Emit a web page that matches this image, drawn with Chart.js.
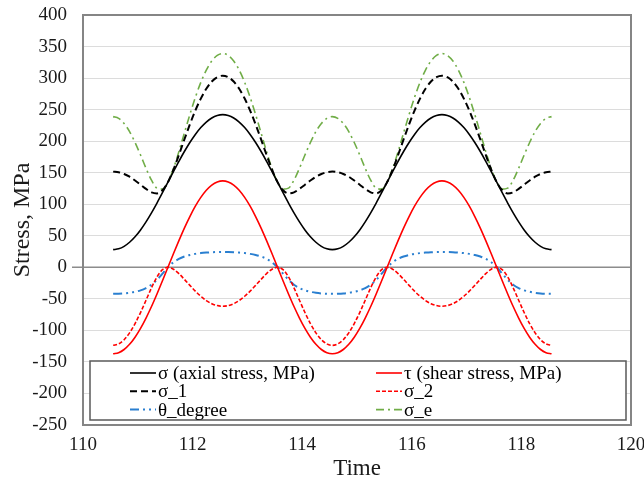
<!DOCTYPE html>
<html>
<head>
<meta charset="utf-8">
<title>Stress vs Time</title>
<script src="https://cdn.jsdelivr.net/npm/chart.js@4.4.1/dist/chart.umd.min.js"></script>
<style>
    html, body { margin: 0; padding: 0; background: #ffffff; }
    #wrap { width: 644px; height: 486px; }
</style>
</head>
<body>
<div id="wrap"><canvas id="stress-chart" width="644" height="486"></canvas></div>
<script>
// Time samples (s)
const times = [
    110.55, 110.65, 110.75, 110.85, 110.95, 111.05, 111.15, 111.25, 111.35, 111.45,
    111.55, 111.65, 111.75, 111.85, 111.95, 112.05, 112.15, 112.25, 112.35, 112.45,
    112.55, 112.65, 112.75, 112.85, 112.95, 113.05, 113.15, 113.25, 113.35, 113.45,
    113.55, 113.65, 113.75, 113.85, 113.95, 114.05, 114.15, 114.25, 114.35, 114.45,
    114.55, 114.65, 114.75, 114.85, 114.95, 115.05, 115.15, 115.25, 115.35, 115.45,
    115.55, 115.65, 115.75, 115.85, 115.95, 116.05, 116.15, 116.25, 116.35, 116.45,
    116.55, 116.65, 116.75, 116.85, 116.95, 117.05, 117.15, 117.25, 117.35, 117.45,
    117.55, 117.65, 117.75, 117.85, 117.95, 118.05, 118.15, 118.25, 118.35, 118.45,
    118.55
];

// axial stress σ, MPa
const sigma = [
    28.0, 29.3, 33.2, 39.7, 48.4, 59.3, 72.1, 86.4, 101.9, 118.3,
    135.0, 151.7, 168.1, 183.6, 197.9, 210.7, 221.6, 230.3, 236.8, 240.7,
    242.0, 240.7, 236.8, 230.3, 221.6, 210.7, 197.9, 183.6, 168.1, 151.7,
    135.0, 118.3, 101.9, 86.4, 72.1, 59.3, 48.4, 39.7, 33.2, 29.3,
    28.0, 29.3, 33.2, 39.7, 48.4, 59.3, 72.1, 86.4, 101.9, 118.3,
    135.0, 151.7, 168.1, 183.6, 197.9, 210.7, 221.6, 230.3, 236.8, 240.7,
    242.0, 240.7, 236.8, 230.3, 221.6, 210.7, 197.9, 183.6, 168.1, 151.7,
    135.0, 118.3, 101.9, 86.4, 72.1, 59.3, 48.4, 39.7, 33.2, 29.3,
    28.0
];

// shear stress τ, MPa
const tau = [
    -137.0, -135.3, -130.3, -122.1, -110.8, -96.9, -80.5, -62.2, -42.3, -21.4,
    0.0, 21.4, 42.3, 62.2, 80.5, 96.9, 110.8, 122.1, 130.3, 135.3,
    137.0, 135.3, 130.3, 122.1, 110.8, 96.9, 80.5, 62.2, 42.3, 21.4,
    0.0, -21.4, -42.3, -62.2, -80.5, -96.9, -110.8, -122.1, -130.3, -135.3,
    -137.0, -135.3, -130.3, -122.1, -110.8, -96.9, -80.5, -62.2, -42.3, -21.4,
    0.0, 21.4, 42.3, 62.2, 80.5, 96.9, 110.8, 122.1, 130.3, 135.3,
    137.0, 135.3, 130.3, 122.1, 110.8, 96.9, 80.5, 62.2, 42.3, 21.4,
    0.0, -21.4, -42.3, -62.2, -80.5, -96.9, -110.8, -122.1, -130.3, -135.3,
    -137.0
];

// principal stress σ_1
const sigma1 = [
    151.7, 150.7, 148.0, 143.6, 137.6, 131.0, 124.3, 118.9, 117.2, 122.1,
    135.0, 154.7, 178.1, 202.7, 226.5, 248.5, 267.5, 283.0, 294.5, 301.5,
    303.8, 301.5, 294.5, 283.0, 267.5, 248.5, 226.5, 202.7, 178.1, 154.7,
    135.0, 122.1, 117.2, 118.9, 124.3, 131.0, 137.6, 143.6, 148.0, 150.7,
    151.7, 150.7, 148.0, 143.6, 137.6, 131.0, 124.3, 118.9, 117.2, 122.1,
    135.0, 154.7, 178.1, 202.7, 226.5, 248.5, 267.5, 283.0, 294.5, 301.5,
    303.8, 301.5, 294.5, 283.0, 267.5, 248.5, 226.5, 202.7, 178.1, 154.7,
    135.0, 122.1, 117.2, 118.9, 124.3, 131.0, 137.6, 143.6, 148.0, 150.7,
    151.7
];

// principal stress σ_2
const sigma2 = [
    -123.7, -121.4, -114.8, -103.9, -89.2, -71.7, -52.2, -32.5, -15.3, -3.8,
    0.0, -3.0, -10.0, -19.1, -28.6, -37.8, -45.9, -52.7, -57.7, -60.7,
    -61.8, -60.7, -57.7, -52.7, -45.9, -37.8, -28.6, -19.1, -10.0, -3.0,
    0.0, -3.8, -15.3, -32.5, -52.2, -71.7, -89.2, -103.9, -114.8, -121.4,
    -123.7, -121.4, -114.8, -103.9, -89.2, -71.7, -52.2, -32.5, -15.3, -3.8,
    0.0, -3.0, -10.0, -19.1, -28.6, -37.8, -45.9, -52.7, -57.7, -60.7,
    -61.8, -60.7, -57.7, -52.7, -45.9, -37.8, -28.6, -19.1, -10.0, -3.0,
    0.0, -3.8, -15.3, -32.5, -52.2, -71.7, -89.2, -103.9, -114.8, -121.4,
    -123.7
];

// principal direction, degrees
const thetaDeg = [
    -42.1, -41.9, -41.4, -40.4, -38.8, -36.5, -32.9, -27.6, -19.9, -9.9,
    0.0, 7.9, 13.4, 17.1, 19.6, 21.3, 22.5, 23.3, 23.9, 24.2,
    24.3, 24.2, 23.9, 23.3, 22.5, 21.3, 19.6, 17.1, 13.4, 7.9,
    0.0, -9.9, -19.9, -27.6, -32.9, -36.5, -38.8, -40.4, -41.4, -41.9,
    -42.1, -41.9, -41.4, -40.4, -38.8, -36.5, -32.9, -27.6, -19.9, -9.9,
    0.0, 7.9, 13.4, 17.1, 19.6, 21.3, 22.5, 23.3, 23.9, 24.2,
    24.3, 24.2, 23.9, 23.3, 22.5, 21.3, 19.6, 17.1, 13.4, 7.9,
    0.0, -9.9, -19.9, -27.6, -32.9, -36.5, -38.8, -40.4, -41.4, -41.9,
    -42.1
];

// equivalent stress σ_e
const sigmaE = [
    238.9, 236.2, 228.1, 215.2, 197.9, 178.0, 157.0, 138.1, 125.5, 124.0,
    135.0, 156.2, 183.4, 212.9, 242.1, 269.4, 293.2, 312.7, 327.1, 335.9,
    338.9, 335.9, 327.1, 312.7, 293.2, 269.4, 242.1, 212.9, 183.4, 156.2,
    135.0, 124.0, 125.5, 138.1, 157.0, 178.0, 197.9, 215.2, 228.1, 236.2,
    238.9, 236.2, 228.1, 215.2, 197.9, 178.0, 157.0, 138.1, 125.5, 124.0,
    135.0, 156.2, 183.4, 212.9, 242.1, 269.4, 293.2, 312.7, 327.1, 335.9,
    338.9, 335.9, 327.1, 312.7, 293.2, 269.4, 242.1, 212.9, 183.4, 156.2,
    135.0, 124.0, 125.5, 138.1, 157.0, 178.0, 197.9, 215.2, 228.1, 236.2,
    238.9
];

const seriesLabels = ['σ (axial stress, MPa)', 'τ (shear stress, MPa)', 'σ_1', 'σ_2', 'θ_degree', 'σ_e'];

const xTicks = { min: 110, max: 120, step: 2 };
const yTicks = { min: -250, max: 400, step: 50 };

const SERIF = '"Liberation Serif", "Times New Roman", serif';

function toPoints(values) {
    return values.map((v, i) => ({ x: times[i], y: v }));
}

// plot frame + darker zero line (sticks out a bit to the left)
const framePlugin = {
    id: 'frame',
    beforeDatasetsDraw(chart) {
        const { ctx, chartArea: a, scales } = chart;
        const y0 = scales.y.getPixelForValue(0);
        ctx.save();
        ctx.strokeStyle = '#8c8c8c';
        ctx.lineWidth = 1.5;
        ctx.beginPath();
        ctx.moveTo(a.left - 11, y0);
        ctx.lineTo(a.right, y0);
        ctx.stroke();
        ctx.strokeStyle = '#858585';
        ctx.lineWidth = 2;
        ctx.strokeRect(a.left, a.top, a.right - a.left, a.bottom - a.top);
        ctx.restore();
    }
};

// boxed two-column legend inside the bottom of the plot
const boxLegendPlugin = {
    id: 'boxLegend',
    afterDatasetsDraw(chart) {
        const { ctx, chartArea: a } = chart;
        const left = a.left + 7, right = a.right - 5;
        const bottom = a.bottom - 5, top = bottom - 59;
        ctx.save();
        ctx.fillStyle = '#ffffff';
        ctx.fillRect(left, top, right - left, bottom - top);
        ctx.strokeStyle = '#595959';
        ctx.lineWidth = 1.5;
        ctx.strokeRect(left, top, right - left, bottom - top);

        ctx.font = '19px ' + SERIF;
        ctx.textBaseline = 'middle';
        ctx.textAlign = 'left';
        chart.data.datasets.forEach((ds, i) => {
            const col = i % 2, row = Math.floor(i / 2);
            const lx = left + (col ? 286 : 40);
            const y = top + 12 + row * 18.3;
            ctx.strokeStyle = ds.borderColor;
            ctx.lineWidth = ds.borderWidth;
            ctx.setLineDash(ds.borderDash || []);
            ctx.beginPath();
            ctx.moveTo(lx, y);
            ctx.lineTo(lx + 26, y);
            ctx.stroke();
            ctx.setLineDash([]);
            ctx.fillStyle = '#000000';
            ctx.fillText(ds.label, lx + 28, y + 1);
        });
        ctx.restore();
    }
};

function initializeChart() {
    const ctx = document.getElementById('stress-chart').getContext('2d');
    const styles = [
        { color: '#000000', width: 1.6, dash: [] },
        { color: '#ff0000', width: 1.6, dash: [] },
        { color: '#000000', width: 2, dash: [7, 4] },
        { color: '#ff0000', width: 1.6, dash: [4, 2] },
        { color: '#2a7fd0', width: 2, dash: [9, 4, 2, 4, 2, 4] },
        { color: '#70ad47', width: 1.6, dash: [8, 4, 2, 4] }
    ];
    const seriesValues = [sigma, tau, sigma1, sigma2, thetaDeg, sigmaE];

    window.stressChart = new Chart(ctx, {
        type: 'line',
        data: {
            datasets: seriesValues.map((vals, i) => ({
                label: seriesLabels[i],
                data: toPoints(vals),
                borderColor: styles[i].color,
                borderWidth: styles[i].width,
                borderDash: styles[i].dash,
                pointRadius: 0,
                fill: false,
                cubicInterpolationMode: 'monotone'
            }))
        },
        options: {
            responsive: false,
            animation: false,
            layout: { padding: { top: 15, right: 13, left: 0, bottom: 0 } },
            plugins: {
                legend: { display: false },
                tooltip: { enabled: false }
            },
            scales: {
                x: {
                    type: 'linear',
                    min: xTicks.min,
                    max: xTicks.max,
                    grid: { display: false, drawTicks: false },
                    border: { display: false },
                    ticks: {
                        stepSize: xTicks.step,
                        padding: 9,
                        color: '#1a1a1a',
                        font: { family: SERIF, size: 19 },
                        maxRotation: 0
                    },
                    title: {
                        display: true,
                        text: 'Time',
                        color: '#1a1a1a',
                        font: { family: SERIF, size: 23 },
                        padding: { top: 0, bottom: 3 }
                    },
                    afterFit(scale) {
                        scale.height = 61;
                        scale.paddingLeft = 0;
                        scale.paddingRight = 0;
                    }
                },
                y: {
                    min: yTicks.min,
                    max: yTicks.max,
                    grid: { color: '#dcdcdc', lineWidth: 1, drawTicks: false },
                    border: { display: false },
                    ticks: {
                        stepSize: yTicks.step,
                        padding: 16,
                        color: '#1a1a1a',
                        font: { family: SERIF, size: 19 }
                    },
                    title: {
                        display: true,
                        text: 'Stress, MPa',
                        color: '#1a1a1a',
                        font: { family: SERIF, size: 24 },
                        padding: { top: 8, bottom: 0 }
                    },
                    afterFit(scale) {
                        scale.width = 83;
                        scale.paddingTop = 0;
                        scale.paddingBottom = 0;
                    }
                }
            }
        },
        plugins: [framePlugin, boxLegendPlugin]
    });
}

document.addEventListener('DOMContentLoaded', initializeChart);
</script>
</body>
</html>
